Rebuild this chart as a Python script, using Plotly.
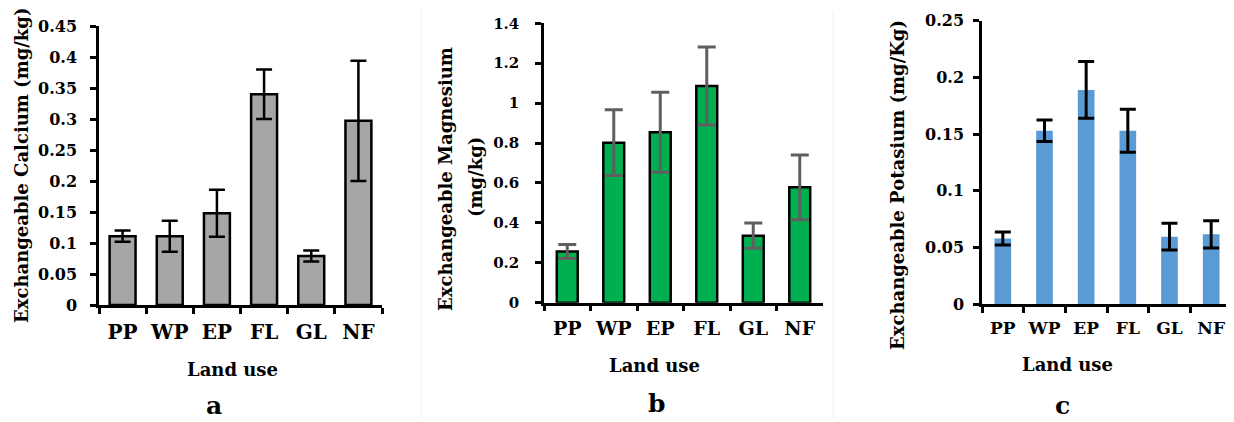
import plotly.graph_objects as go

# ---- data ----
categories = ["PP", "WP", "EP", "FL", "GL", "NF"]
calcium = [0.111, 0.111, 0.148, 0.340, 0.079, 0.297]
calcium_err = [0.009, 0.025, 0.038, 0.040, 0.009, 0.097]
magnesium = [0.256, 0.802, 0.854, 1.086, 0.336, 0.578]
magnesium_err = [0.035, 0.165, 0.200, 0.195, 0.063, 0.162]
potassium = [0.058, 0.153, 0.189, 0.153, 0.0596, 0.0617]
potassium_err = [0.0057, 0.0095, 0.025, 0.019, 0.0118, 0.012]

ca_ticks = [0, 0.05, 0.1, 0.15, 0.2, 0.25, 0.3, 0.35, 0.4, 0.45]
ca_ticktext = ["0", "0.05", "0.1", "0.15", "0.2", "0.25", "0.3", "0.35", "0.4", "0.45"]
mg_ticks = [0, 0.2, 0.4, 0.6, 0.8, 1.0, 1.2, 1.4]
mg_ticktext = ["0", "0.2", "0.4", "0.6", "0.8", "1", "1.2", "1.4"]
k_ticks = [0, 0.05, 0.1, 0.15, 0.2, 0.25]
k_ticktext = ["0", "0.05", "0.1", "0.15", "0.2", "0.25"]

# the page body has an 8px default margin, so the figure starts at (8, 8)
OFF = 8
W, H = 1234 - OFF, 422 - OFF
FONT = "DejaVu Serif"

def px(x):
    return (x - OFF) / W

def py(y):
    return 1 - (y - OFF) / H

fig = go.Figure()

fig.add_trace(go.Bar(
    x=categories, y=calcium, width=0.55,
    marker=dict(color="#a6a6a6", line=dict(color="black", width=2.5)),
    error_y=dict(type="data", array=calcium_err, color="black", thickness=2.5, width=8),
    xaxis="x", yaxis="y", showlegend=False))

fig.add_trace(go.Bar(
    x=categories, y=magnesium, width=0.45,
    marker=dict(color="#00b050", line=dict(color="black", width=2.5)),
    error_y=dict(type="data", array=magnesium_err, color="#5f5f5f", thickness=3, width=9),
    xaxis="x2", yaxis="y2", showlegend=False))

fig.add_trace(go.Bar(
    x=categories, y=potassium, width=0.4,
    marker=dict(color="#5b9bd5", line=dict(width=0)),
    error_y=dict(type="data", array=potassium_err, color="black", thickness=3, width=8),
    xaxis="x3", yaxis="y3", showlegend=False))

def xax(domain, anchor, size):
    return dict(domain=domain, anchor=anchor, type="category",
                showline=True, linecolor="black", linewidth=2.5,
                ticks="outside", tickson="boundaries", ticklen=6, tickwidth=2.5,
                tickcolor="black", showgrid=False, zeroline=False,
                tickangle=0, automargin=False,
                tickfont=dict(family=FONT, size=size, color="black", weight="bold"),
                ticklabelstandoff=7, fixedrange=True)

def yax(domain, anchor, rng, tv, tt, size, standoff):
    return dict(domain=domain, anchor=anchor, range=rng,
                tickmode="array", tickvals=tv, ticktext=tt,
                showline=True, linecolor="black", linewidth=2.5,
                ticks="outside", ticklen=6, tickwidth=2.5, tickcolor="black",
                showgrid=False, zeroline=False, automargin=False,
                tickfont=dict(family=FONT, size=size, color="black", weight="bold"),
                ticklabelstandoff=standoff, fixedrange=True)

fig.update_layout(
    width=W, height=H, autosize=False,
    margin=dict(l=0, r=0, t=0, b=0, pad=0),
    paper_bgcolor="white", plot_bgcolor="white",
    xaxis=xax([px(99), px(382)], "y", 20),
    yaxis=yax([py(305), py(26)], "x", [0, 0.45], ca_ticks, ca_ticktext, 16, 10),
    xaxis2=xax([px(544), px(823)], "y2", 19),
    yaxis2=yax([py(302.7), py(23.3)], "x2", [0, 1.4], mg_ticks, mg_ticktext, 15, 13),
    xaxis3=xax([px(982), px(1232)], "y3", 17),
    yaxis3=yax([py(304.3), py(20.7)], "x3", [0, 0.25], k_ticks, k_ticktext, 16, 6),
)

def ann(text, x, y, size, angle=0):
    fig.add_annotation(text=text, xref="paper", yref="paper", x=px(x), y=py(y),
                       xanchor="center", yanchor="middle", showarrow=False,
                       textangle=angle,
                       font=dict(family=FONT, size=size, color="black", weight="bold"))

# axis titles
ann("Exchangeable Calcium (mg/kg)", 22, 166, 18, -90)
ann("Exchangeable Magnesium", 445, 179, 18, -90)
ann("(mg/kg)", 475, 177, 18, -90)
ann("Exchangeable Potasium (mg/Kg)", 897, 185, 18, -90)
ann("Land use", 232, 369, 18)
ann("Land use", 654, 365, 18)
ann("Land use", 1067, 364, 18)
# panel letters
ann("a", 214, 405, 25)
ann("b", 656, 403, 25)
ann("c", 1062, 405, 25)

# faint borders of the original image panels
for xl in (421, 833):
    fig.add_shape(type="line", xref="paper", yref="paper", x0=px(xl), x1=px(xl),
                  y0=py(418), y1=py(10), line=dict(color="#f0f0f0", width=1))

fig.write_html("out.html")
